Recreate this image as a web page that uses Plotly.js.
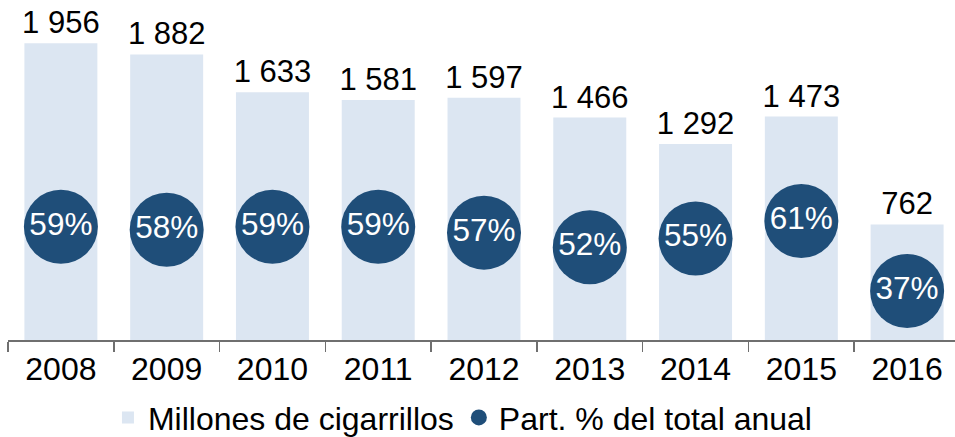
<!DOCTYPE html>
<html>
<head>
<meta charset="utf-8">
<script src="https://cdn.plot.ly/plotly-3.0.1.min.js"></script>
<style>
html,body{margin:0;padding:0;overflow:hidden;background:#fff;}
#chart{width:962px;height:437px;}
</style>
</head>
<body>
<div id="chart"></div>
<script>
const years = ['2008','2009','2010','2011','2012','2013','2014','2015','2016'];
const cigarillos = [1956, 1882, 1633, 1581, 1597, 1466, 1292, 1473, 762];
const sharePct = [59, 58, 59, 59, 57, 52, 55, 61, 37];
const seriesNames = ['Millones de cigarrillos', 'Part. % del total anual'];

const FONT = 'Liberation Sans, Arial, sans-serif';
const BAR_COLOR = '#DCE6F2';
const DOT_COLOR = '#1F4E79';

const fmt = v => String(v).replace(/\B(?=(\d{3})+(?!\d))/g, ' ');

const bars = {
  type: 'bar',
  name: seriesNames[0],
  x: years,
  y: cigarillos,
  text: cigarillos.map(fmt),
  textposition: 'outside',
  constraintext: 'none',
  textfont: {family: FONT, size: 31, color: '#000'},
  cliponaxis: false,
  marker: {color: BAR_COLOR, line: {width: 0}},
  hoverinfo: 'skip'
};

const dots = {
  type: 'scatter',
  mode: 'markers+text',
  name: seriesNames[1],
  x: years,
  y: sharePct,
  yaxis: 'y2',
  text: sharePct.map(v => v + '%'),
  textposition: 'middle center',
  textfont: {family: FONT, size: 31.5, color: '#fff'},
  cliponaxis: false,
  marker: {color: DOT_COLOR, size: 74, line: {width: 0}},
  hoverinfo: 'skip'
};

const layout = {
  width: 962,
  height: 437,
  margin: {l: 8, r: 2, t: 10, b: 97, autoexpand: false},
  paper_bgcolor: '#fff',
  plot_bgcolor: '#fff',
  font: {family: FONT, color: '#000'},
  bargap: 0.31,
  showlegend: true,
  legend: {
    orientation: 'h',
    x: 0.105, xanchor: 'left',
    y: -0.152, yanchor: 'top',
    font: {family: FONT, size: 32, color: '#000'},
    traceorder: 'normal',
    bgcolor: 'rgba(0,0,0,0)'
  },
  xaxis: {
    type: 'category',
    range: [-0.5, 8.5],
    autorange: false,
    showline: true,
    linecolor: '#6f6f6f',
    linewidth: 1.5,
    ticks: 'outside',
    tickson: 'boundaries',
    ticklen: 10,
    tickwidth: 1.5,
    tickcolor: '#6f6f6f',
    tickfont: {family: FONT, size: 32, color: '#000'},
    showgrid: false,
    zeroline: false,
    fixedrange: true
  },
  yaxis: {
    range: [0, 2175],
    autorange: false,
    visible: false,
    showgrid: false,
    zeroline: false
  },
  yaxis2: {
    range: [20.2, 133.3],
    autorange: false,
    overlaying: 'y',
    side: 'right',
    visible: false,
    showgrid: false,
    zeroline: false
  }
};

Plotly.newPlot('chart', [bars, dots], layout, {displayModeBar: false, staticPlot: true});
</script>
</body>
</html>
